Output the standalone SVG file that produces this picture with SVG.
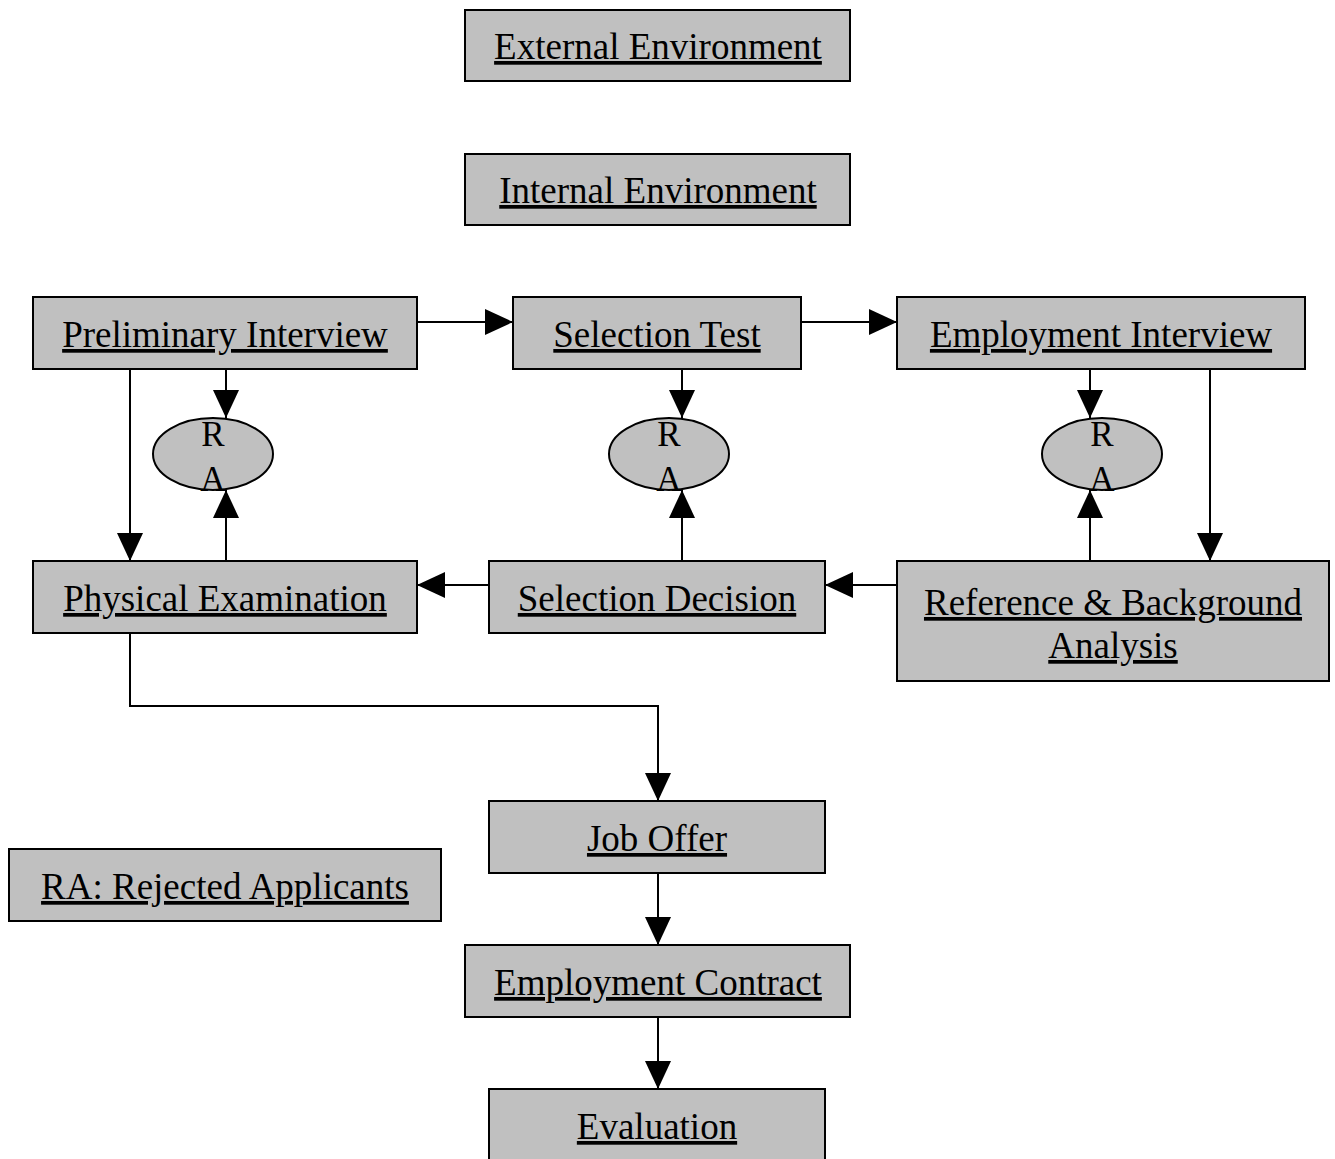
<svg xmlns="http://www.w3.org/2000/svg" width="1335" height="1159" viewBox="0 0 1335 1159">
<style>
.box{fill:#c0c0c0;stroke:#000;stroke-width:2}
.t{font-family:"Liberation Serif","Times New Roman",serif;font-size:37px;text-anchor:middle;text-decoration:underline;fill:#000}
.r{font-family:"Liberation Serif","Times New Roman",serif;font-size:35px;text-anchor:middle;fill:#000}
.c{fill:none;stroke:#000;stroke-width:2}
</style>
<defs>
<marker id="ah" viewBox="0 0 28 26" refX="28" refY="13" markerWidth="28" markerHeight="26" markerUnits="userSpaceOnUse" orient="auto">
<polygon points="0,0 28,13 0,26" fill="#000"/>
</marker>
</defs>
<rect width="1335" height="1159" fill="#fff"/>
<g id="connectors">
<line class="c" x1="417" y1="322" x2="513" y2="322" marker-end="url(#ah)"/>
<line class="c" x1="801" y1="322" x2="897" y2="322" marker-end="url(#ah)"/>
<line class="c" x1="226" y1="369" x2="226" y2="418" marker-end="url(#ah)"/>
<line class="c" x1="130" y1="369" x2="130" y2="561" marker-end="url(#ah)"/>
<line class="c" x1="226" y1="561" x2="226" y2="490" marker-end="url(#ah)"/>
<line class="c" x1="682" y1="369" x2="682" y2="418" marker-end="url(#ah)"/>
<line class="c" x1="682" y1="561" x2="682" y2="490" marker-end="url(#ah)"/>
<line class="c" x1="1090" y1="369" x2="1090" y2="418" marker-end="url(#ah)"/>
<line class="c" x1="1090" y1="561" x2="1090" y2="490" marker-end="url(#ah)"/>
<line class="c" x1="1210" y1="369" x2="1210" y2="561" marker-end="url(#ah)"/>
<line class="c" x1="897" y1="585" x2="825" y2="585" marker-end="url(#ah)"/>
<line class="c" x1="489" y1="585" x2="417" y2="585" marker-end="url(#ah)"/>
<polyline class="c" points="130,633 130,706 658,706 658,801" marker-end="url(#ah)"/>
<line class="c" x1="658" y1="873" x2="658" y2="945" marker-end="url(#ah)"/>
<line class="c" x1="658" y1="1017" x2="658" y2="1089" marker-end="url(#ah)"/>
</g>
<g id="external"><rect class="box" x="465" y="10" width="385" height="71"/><text class="t" x="658" y="59">External Environment</text></g>
<g id="internal"><rect class="box" x="465" y="154" width="385" height="71"/><text class="t" x="658" y="203">Internal Environment</text></g>
<g id="preliminary"><rect class="box" x="33" y="297" width="384" height="72"/><text class="t" x="225" y="347">Preliminary Interview</text></g>
<g id="selectiontest"><rect class="box" x="513" y="297" width="288" height="72"/><text class="t" x="657" y="347">Selection Test</text></g>
<g id="employmentinterview"><rect class="box" x="897" y="297" width="408" height="72"/><text class="t" x="1101" y="347">Employment Interview</text></g>
<g id="ra1"><ellipse class="box" cx="213" cy="454" rx="60" ry="36"/><text class="r" x="213" y="446">R</text><text class="r" x="213" y="491">A</text></g>
<g id="ra2"><ellipse class="box" cx="669" cy="454" rx="60" ry="36"/><text class="r" x="669" y="446">R</text><text class="r" x="669" y="491">A</text></g>
<g id="ra3"><ellipse class="box" cx="1102" cy="454" rx="60" ry="36"/><text class="r" x="1102" y="446">R</text><text class="r" x="1102" y="491">A</text></g>
<g id="physical"><rect class="box" x="33" y="561" width="384" height="72"/><text class="t" x="225" y="611">Physical Examination</text></g>
<g id="decision"><rect class="box" x="489" y="561" width="336" height="72"/><text class="t" x="657" y="611">Selection Decision</text></g>
<g id="reference"><rect class="box" x="897" y="561" width="432" height="120"/><text class="t" x="1113" y="615">Reference &amp; Background</text><text class="t" x="1113" y="658">Analysis</text></g>
<g id="joboffer"><rect class="box" x="489" y="801" width="336" height="72"/><text class="t" x="657" y="851">Job Offer</text></g>
<g id="legend"><rect class="box" x="9" y="849" width="432" height="72"/><text class="t" x="225" y="899">RA: Rejected Applicants</text></g>
<g id="contract"><rect class="box" x="465" y="945" width="385" height="72"/><text class="t" x="658" y="995">Employment Contract</text></g>
<g id="evaluation"><rect class="box" x="489" y="1089" width="336" height="80"/><text class="t" x="657" y="1139">Evaluation</text></g>
</svg>
